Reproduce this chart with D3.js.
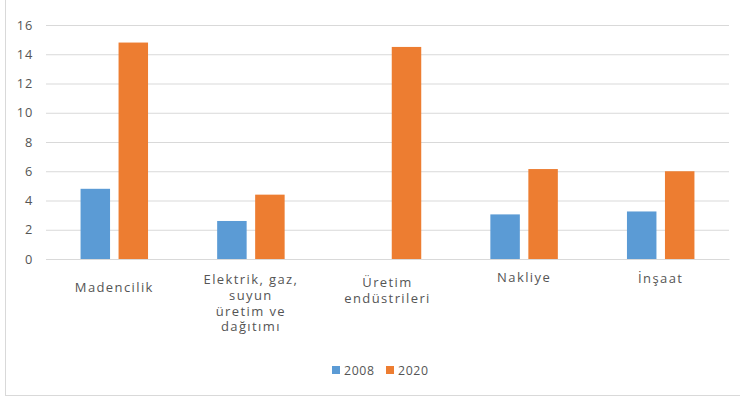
<!DOCTYPE html>
<html>
<head>
<meta charset="utf-8">
<script src="https://cdn.jsdelivr.net/npm/d3@7"></script>
<style>
    body { margin: 0; background: #fff; }
    svg { display: block; }
    text { font-family: "Open Sans", sans-serif; fill: #555; }
</style>
</head>
<body>
<div id="chart"></div>
<script>
const categories = ["Madencilik", "Elektrik, gaz, suyun üretim ve dağıtımı", "Üretim endüstrileri", "Nakliye", "İnşaat"];
const categoryLines = [["Madencilik"], ["Elektrik, gaz,", "suyun", "üretim ve", "dağıtımı"], ["Üretim", "endüstrileri"], ["Nakliye"], ["İnşaat"]];
const seriesNames = ["2008", "2020"];
const values2008 = [4.8, 2.6, null, 3.05, 3.25];
const values2020 = [14.8, 4.4, 14.5, 6.15, 6.0];
const yTicks = [0, 2, 4, 6, 8, 10, 12, 14, 16];
const colors = ["#5B9BD5", "#ED7D31"];

const width = 740, height = 398;
const margin = {top: 25, right: 11, bottom: 139, left: 46};

const svg = d3.select("#chart").append("svg")
    .attr("width", width)
    .attr("height", height);

// chart area border (only left and bottom are visible in the crop)
svg.append("rect")
    .attr("x", 5.5)
    .attr("y", -2)
    .attr("width", width + 10)
    .attr("height", 397.5)
    .attr("fill", "none")
    .attr("stroke", "#d9d9d9")
    .attr("stroke-width", 1);

const x0 = d3.scaleBand()
    .domain(categories)
    .range([margin.left, width - margin.right])
    .paddingInner(0.506)
    .paddingOuter(0.253);

const x1 = d3.scaleBand()
    .domain(seriesNames)
    .range([0, x0.bandwidth()])
    .paddingInner(0.224);

const y = d3.scaleLinear()
    .domain([0, 16])
    .range([height - margin.bottom - 0, margin.top]);

// gridlines + tick labels
const yAxis = d3.axisLeft(y)
    .tickValues(yTicks)
    .tickSize(-(width - margin.left - margin.right))
    .tickPadding(13);

const gy = svg.append("g")
    .attr("transform", `translate(${margin.left},0)`)
    .call(yAxis);
gy.select(".domain").remove();
gy.selectAll(".tick line").attr("stroke", "#d9d9d9").attr("stroke-width", 1.2);
gy.selectAll(".tick text")
    .style("font-size", "12.8px")
    .style("letter-spacing", "0.8px")
    .attr("fill", "#555");

// bars
const rows = categories.map((c, i) => ({cat: c, vals: [values2008[i], values2020[i]]}));

const groups = svg.append("g").selectAll("g")
    .data(rows)
    .join("g")
    .attr("transform", d => `translate(${x0(d.cat)},0)`);

groups.selectAll("rect")
    .data(d => d.vals.map((v, j) => ({key: seriesNames[j], value: v, j: j})).filter(d => d.value != null))
    .join("rect")
    .attr("x", d => x1(d.key))
    .attr("y", d => y(d.value))
    .attr("width", x1.bandwidth())
    .attr("height", d => y(0) - y(d.value))
    .attr("fill", d => colors[d.j]);

// category axis
const xAxis = d3.axisBottom(x0)
    .tickSize(0)
    .tickFormat("");

const gx = svg.append("g")
    .attr("transform", `translate(0,${y(0)})`)
    .call(xAxis);
gx.select(".domain").attr("stroke", "#d9d9d9").attr("stroke-width", 1.2);

// excel places the labels slightly differently per category
const labelShift = [9, 1, 4, -1, 0];
gx.selectAll(".tick").each(function (d, i) {
    const t = d3.select(this).append("text")
        .attr("text-anchor", "middle")
        .attr("y", 24 + labelShift[i])
        .style("font-size", "13px")
        .style("letter-spacing", "1.4px")
        .attr("fill", "#555");
    categoryLines[i].forEach((line, k) => {
        t.append("tspan")
            .attr("x", 0)
            .attr("dy", k === 0 ? 0 : 15.8)
            .text(line);
    });
});

// legend
const legend = svg.append("g")
    .attr("transform", "translate(332,366)");
const items = legend.selectAll("g")
    .data(seriesNames)
    .join("g")
    .attr("transform", (d, i) => `translate(${i * 54},0)`);
items.append("rect")
    .attr("width", 8)
    .attr("height", 8)
    .attr("fill", (d, i) => colors[i]);
items.append("text")
    .attr("x", 12)
    .attr("y", 8.5)
    .style("font-size", "12.3px")
    .style("letter-spacing", "0.6px")
    .text(d => d);
</script>
</body>
</html>
